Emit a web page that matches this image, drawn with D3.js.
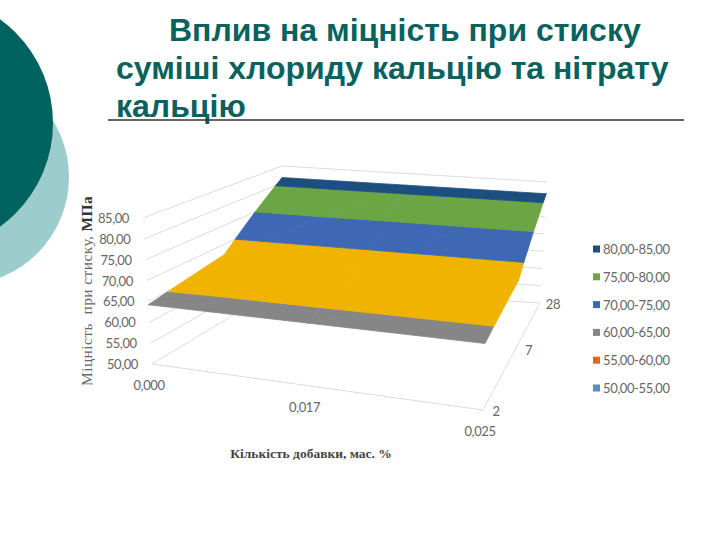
<!DOCTYPE html>
<html><head><meta charset="utf-8">
<script src="https://cdn.jsdelivr.net/npm/d3@7"></script>
<style>html,body{margin:0;padding:0;background:#fff;overflow:hidden}svg{display:block}</style>
</head><body><svg id="c" width="720" height="540"></svg>
<script>
const titleLines = ["Вплив на міцність при стиску", "суміші хлориду кальцію та нітрату", "кальцію"];
const additiveLabels = ["0,000", "0,017", "0,025"];
const dayLabels = ["2", "7", "28"];
const valueTicks = [50, 55, 60, 65, 70, 75, 80, 85];
// strength rows: one row per day, one value per additive amount
const strength2 = [64.2, 64.2, 64.2];
const strength7 = [67.3, 67.2, 67.2];
const strength28 = [81.6, 81.6, 81.6];
const bandLow = [50, 55, 60, 65, 70, 75, 80];
const bandHigh = [55, 60, 65, 70, 75, 80, 85];
const bandColor = ["#5b8fb8", "#d9692b", "#868686", "#f0b400", "#3f68b4", "#6ca544", "#1c4f7f"];
const legendLabels = ["80,00-85,00", "75,00-80,00", "70,00-75,00", "60,00-65,00", "55,00-60,00", "50,00-55,00"];
const legendColor = ["#1c4f7f", "#6ca544", "#3f68b4", "#868686", "#d9692b", "#5b8fb8"];

const svg = d3.select("#c");
const grid = [strength2, strength7, strength28];

// Backdrop
svg.append("circle").attr("cx", -39).attr("cy", 177).attr("r", 108).attr("fill", "#9ccccc");
svg.append("circle").attr("cx", -75).attr("cy", 123).attr("r", 128).attr("fill", "#00635f");

// Title
const tF = "'Liberation Sans',Arial,sans-serif";
[[169, 41], [116, 79], [116, 117]].forEach((p, i) => {
  svg.append("text").attr("x", p[0]).attr("y", p[1]).attr("font-family", tF).attr("font-weight", 700)
    .attr("font-size", 32).attr("fill", "#0a625e").text(titleLines[i]);
});
svg.append("line").attr("x1", 108).attr("x2", 684).attr("y1", 120).attr("y2", 120)
  .attr("stroke", "#333").attr("stroke-width", 1.3);

// Perspective box: scales to unit cube, then trilinear mix of the eight box corners
const tScale = d3.scaleLinear().domain([0, 1, 2]).range([0, 0.47, 1]);
const sScale = d3.scaleLinear().domain([0, 1, 2]).range([0, 0.57, 1]);
const hScale = d3.scaleLinear().domain([50, 85]).range([0, 1]);
const corner = {
  floor: [[[152, 364], [283, 285]], [[483, 410], [540, 303]]],
  top:   [[[143, 218], [282, 166]], [[488, 246], [547, 182]]]
};
const mix = (a, b, k) => [a[0] + (b[0] - a[0]) * k, a[1] + (b[1] - a[1]) * k];
function project(t, s, h) {
  const f = mix(mix(corner.floor[0][0], corner.floor[0][1], s), mix(corner.floor[1][0], corner.floor[1][1], s), t);
  const u = mix(mix(corner.top[0][0], corner.top[0][1], s), mix(corner.top[1][0], corner.top[1][1], s), t);
  return mix(f, u, h);
}
const P = (i, j, v) => project(tScale(i), sScale(j), hScale(v));
const line = d3.line();

// Gridlines on the two walls and the floor edges
const gridG = svg.append("g").attr("fill", "none").attr("stroke", "#dcdcdc").attr("stroke-width", 1);
valueTicks.forEach(v => {
  gridG.append("path").attr("d", line([P(0, 0, v), P(0, 2, v), P(2, 2, v)]));
});
gridG.append("path").attr("d", line([P(0, 0, 50), P(2, 0, 50), P(2, 2, 50)]));

// Surface: split every cell in triangles and clip each to the colour band
function clip(poly, keep, level) {
  const out = [];
  poly.forEach((a, i) => {
    const b = poly[(i + 1) % poly.length];
    const ia = keep(a[2]), ib = keep(b[2]);
    if (ia) out.push(a);
    if (ia !== ib) {
      const k = (level - a[2]) / (b[2] - a[2]);
      out.push([a[0] + (b[0] - a[0]) * k, a[1] + (b[1] - a[1]) * k, level]);
    }
  });
  return out;
}
const surf = svg.append("g");
bandLow.forEach((lo, b) => {
  const hi = bandHigh[b];
  for (let j = 0; j < dayLabels.length - 1; j++) {
    for (let i = 0; i < additiveLabels.length - 1; i++) {
      const q = [[i, j, grid[j][i]], [i + 1, j, grid[j][i + 1]], [i + 1, j + 1, grid[j + 1][i + 1]], [i, j + 1, grid[j + 1][i]]];
      [[q[0], q[1], q[2]], [q[0], q[2], q[3]]].forEach(tri => {
        let p = clip(tri, v => v >= lo, lo);
        if (p.length) p = clip(p, v => v <= hi, hi);
        if (p.length > 2) {
          surf.append("path").attr("d", line(p.map(d => P(d[0], d[1], d[2]))) + "Z")
            .attr("fill", bandColor[b]).attr("stroke", bandColor[b]).attr("stroke-width", 0.8);
        }
      });
    }
  }
});

// Tick labels
const lF = "Lato,'Open Sans',sans-serif";
const lab = (x, y, t, anchor) => svg.append("text").attr("x", x).attr("y", y).attr("text-anchor", anchor || "middle")
  .attr("dominant-baseline", "central").attr("font-family", lF).attr("font-size", 13).attr("letter-spacing", -0.4).attr("fill", "#666").text(t);
valueTicks.forEach(v => {
  const p = P(0, 0, v);
  lab(p[0] - 14, p[1], d3.format(".2f")(v).replace(".", ","), "end");
});
additiveLabels.forEach((t, i) => {
  const p = P(i, 0, 50);
  lab(p[0] - 3, p[1] + 21, t);
});
dayLabels.forEach((t, j) => {
  const p = P(2, j, 50);
  lab(p[0] + 13, p[1] + 1, t);
});

// Axis titles
const sF = "'Liberation Serif',serif";
const yT = svg.append("text").attr("transform", "translate(92,386) rotate(-90)").attr("font-family", sF).attr("font-size", 15.5).attr("letter-spacing", 0.4).attr("fill", "#666");
yT.append("tspan").attr("xml:space", "preserve").text("Міцність  при стиску, ");
yT.append("tspan").attr("font-weight", 700).attr("fill", "#333").text("МПа");
svg.append("text").attr("x", 311).attr("y", 458).attr("text-anchor", "middle").attr("font-family", sF)
  .attr("font-size", 13.5).attr("font-weight", 700).attr("fill", "#444").text("Кількість добавки, мас. %");

// Legend
const legendY = d3.scalePoint().domain(legendLabels).range([249, 388]);
legendLabels.forEach((t, i) => {
  svg.append("rect").attr("x", 593).attr("y", legendY(t) - 3.5).attr("width", 7).attr("height", 7).attr("fill", legendColor[i]);
  lab(603, legendY(t), t, "start");
});
</script></body></html>
